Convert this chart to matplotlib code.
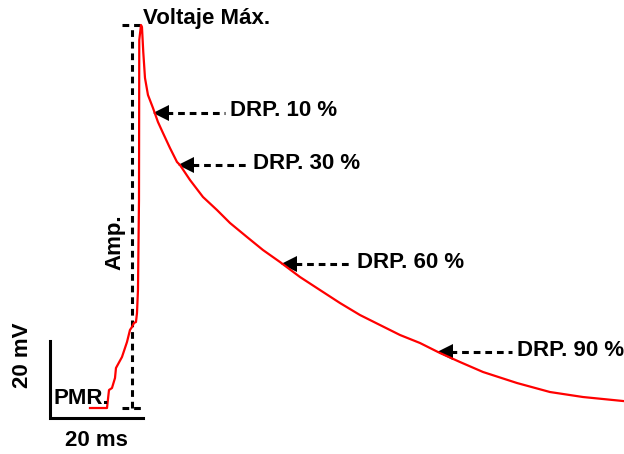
import numpy as np
import matplotlib
matplotlib.use("Agg")
from matplotlib import pyplot as plt

# action potential trace (time in ms, voltage in mV)
t = np.array([0, 3.66, 4.09, 4.73, 5.38, 5.59, 6.88, 7.96, 8.60, 9.03, 9.46,
              9.89, 10.11, 10.32, 10.54, 10.60, 10.97, 11.18, 11.46, 11.83,
              12.47, 13.55, 14.62, 15.70, 17.20, 18.71, 19.35, 21.51, 24.30,
              27.31, 30.11, 33.76, 37.20, 40.86, 45.16, 49.46, 53.76, 58.06,
              62.37, 66.67, 70.97, 75.27, 79.57, 84.52, 91.83, 98.92, 106.02,
              114.62])
v = np.array([-85, -85, -79.86, -79.29, -76.43, -73.57, -70.43, -66.14, -62.71,
              -61.86, -60.71, -60.43, -57.86, -51.29, -25.57, 20.14, 24.43,
              23.86, 16.71, 9.29, 4.43, 0.71, -3.29, -6.43, -10.71, -14.71,
              -15.57, -19.86, -24.71, -28.43, -32.14, -36.14, -39.86, -43.29,
              -47.57, -51.29, -55.0, -58.43, -61.29, -64.14, -66.43, -69.29,
              -71.86, -74.71, -77.86, -80.43, -81.86, -83.0])

v_rest = -85
t_amp = 9.03

drp_labels = ["DRP. 10 %", "DRP. 30 %", "DRP. 60 %", "DRP. 90 %"]
drp_t = [13.9, 19.35, 41.5, 75.0]       # where the arrows touch the trace
drp_text_t = [30.1, 35.05, 57.4, 91.8]  # where the labels start

font = dict(family=["Liberation Sans", "DejaVu Sans"], weight="bold",
            fontsize=16)

fig = plt.figure(figsize=(6.24, 4.54), dpi=100)
ax = fig.add_axes([0, 0, 1, 1])
ax.set_xlim(-19.35, 114.84)
ax.set_ylim(-98.14, 31.57)
ax.axis("off")

ax.plot(t, v, color="red", lw=1.6, zorder=3)

dash = dict(color="black", lw=2.2, ls=(0, (2.2, 1.6)))

# amplitude marker
ipk = np.argmax(v)
v_max = v[ipk]
ax.plot([t_amp, t_amp], [v_rest, v_max], **dash)
ax.plot([t_amp - 2.1, t_amp + 2.0], [v_max, v_max], **dash)
ax.plot([t_amp - 2.1, t_amp + 2.2], [v_rest, v_rest], **dash)
ax.text(t_amp + 2.4, v_max + 1.8, "Voltaje Máx.", ha="left", va="center", **font)
ax.text(t_amp - 3.6, -37.5, "Amp.", ha="center", va="center", rotation=90, **font)
ax.text(-7.8, -82.2, "PMR.", ha="left", va="center", **font)

# repolarisation arrows
for lab, tt, tx in zip(drp_labels, drp_t, drp_text_t):
    vv = np.interp(tt, t[ipk:], v[ipk:])
    ax.plot([tt + 2.5, tx - 1.0], [vv, vv], **dash)
    ax.plot(tt + 1.4, vv, marker="<", ms=11, color="black", mew=0)
    ax.text(tx, vv + 0.5, lab, ha="left", va="center", **font)

# scale bars: 20 ms and 20 mV
x0, y0 = -8.6, -87.9
ax.plot([x0, x0, x0 + 20], [y0 + 22, y0, y0], color="black", lw=2.2,
        solid_joinstyle="miter")
ax.text(x0 + 10, y0 - 6.5, "20 ms", ha="center", va="center", **font)
ax.text(x0 - 6.0, y0 + 18, "20 mV", ha="center", va="center", rotation=90, **font)

fig.savefig("out.png", dpi=100)
